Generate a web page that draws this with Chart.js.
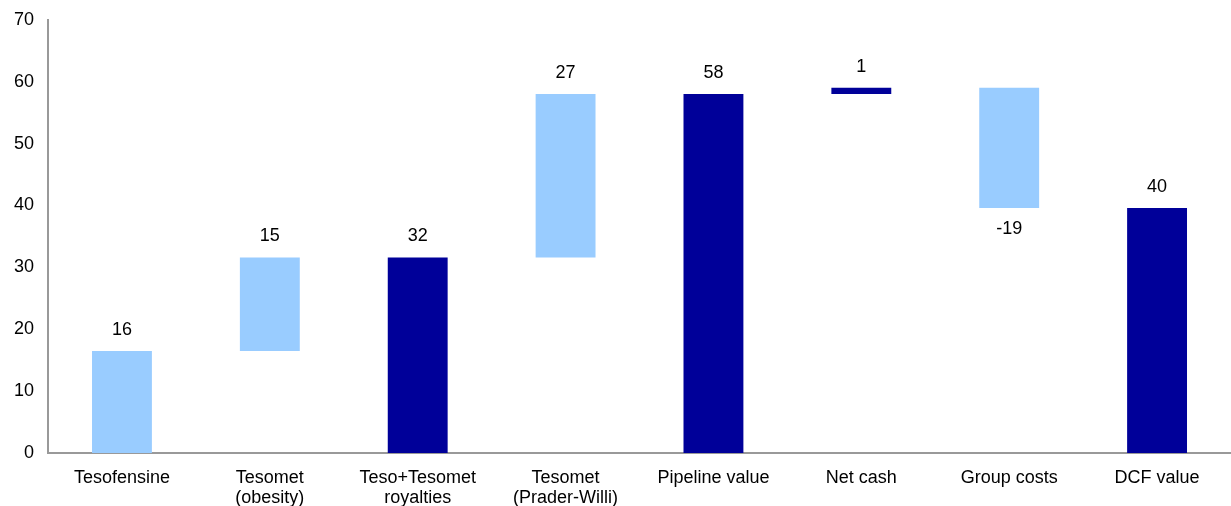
<!DOCTYPE html>
<html>
<head>
<meta charset="utf-8">
<script src="https://cdn.jsdelivr.net/npm/chart.js@4.4.1/dist/chart.umd.min.js"></script>
<style>
  html, body { margin: 0; padding: 0; background: #fff; overflow: hidden; }
  #wrap { width: 1231px; height: 511px; position: relative; top: -5px; }
</style>
</head>
<body>
<div id="wrap"><canvas id="chart"></canvas></div>
<script>
// Waterfall: DCF valuation bridge
const categories = [
    'Tesofensine',
    ['Tesomet', '(obesity)'],
    ['Teso+Tesomet', 'royalties'],
    ['Tesomet', '(Prader-Willi)'],
    'Pipeline value',
    'Net cash',
    'Group costs',
    'DCF value'
];
const barStart = [0, 16.5, 0, 31.6, 0, 58, 59, 0];
const barEnd = [16.5, 31.6, 31.6, 58, 58, 59, 39.6, 39.6];
const valueLabels = ['16', '15', '32', '27', '58', '1', '-19', '40'];
const isTotal = [false, false, true, false, true, true, false, true];
const yTicks = [0, 10, 20, 30, 40, 50, 60, 70];

const LIGHT = '#99ccff';
const DARK = '#000099';
const FONT = 'Liberation Sans, Arial, sans-serif';

// Draw the value label above (or below, for negatives) each floating bar
const valueLabelPlugin = {
    id: 'valueLabels',
    afterDatasetsDraw(chart) {
        const { ctx } = chart;
        const meta = chart.getDatasetMeta(0);
        ctx.save();
        ctx.font = '18px ' + FONT;
        ctx.fillStyle = '#000';
        ctx.textAlign = 'center';
        ctx.textBaseline = 'middle';
        meta.data.forEach((bar, i) => {
            const top = Math.min(bar.y, bar.base);
            const bottom = Math.max(bar.y, bar.base);
            const negative = barEnd[i] < barStart[i];
            const y = negative ? bottom + 21 : top - 21;
            ctx.fillText(valueLabels[i], bar.x, y);
        });
        ctx.restore();
    }
};

new Chart(document.getElementById('chart'), {
    type: 'bar',
    data: {
        labels: categories,
        datasets: [{
            data: barStart.map((s, i) => [s, barEnd[i]]),
            backgroundColor: isTotal.map(t => t ? DARK : LIGHT),
            borderWidth: 0,
            barPercentage: 0.405,
            categoryPercentage: 1
        }]
    },
    options: {
        responsive: true,
        maintainAspectRatio: false,
        animation: false,
        layout: { padding: { top: 1, right: 0, left: 0, bottom: 0 } },
        scales: {
            x: {
                afterFit: scale => { scale.height = 53; },
                grid: { display: false, drawTicks: false },
                border: { color: '#999', width: 2 },
                ticks: {
                    color: '#000',
                    font: { family: FONT, size: 18, lineHeight: 1.12 },
                    padding: 15,
                    maxRotation: 0,
                    autoSkip: false
                }
            },
            y: {
                min: 0,
                max: 70,
                afterBuildTicks: axis => { axis.ticks = yTicks.map(v => ({ value: v })); },
                grid: { display: false, drawTicks: false },
                border: { color: '#999', width: 2 },
                ticks: {
                    color: '#000',
                    font: { family: FONT, size: 18 },
                    padding: 14
                }
            }
        },
        plugins: {
            legend: { display: false },
            tooltip: { enabled: false }
        }
    },
    plugins: [valueLabelPlugin]
});
</script>
</body>
</html>
